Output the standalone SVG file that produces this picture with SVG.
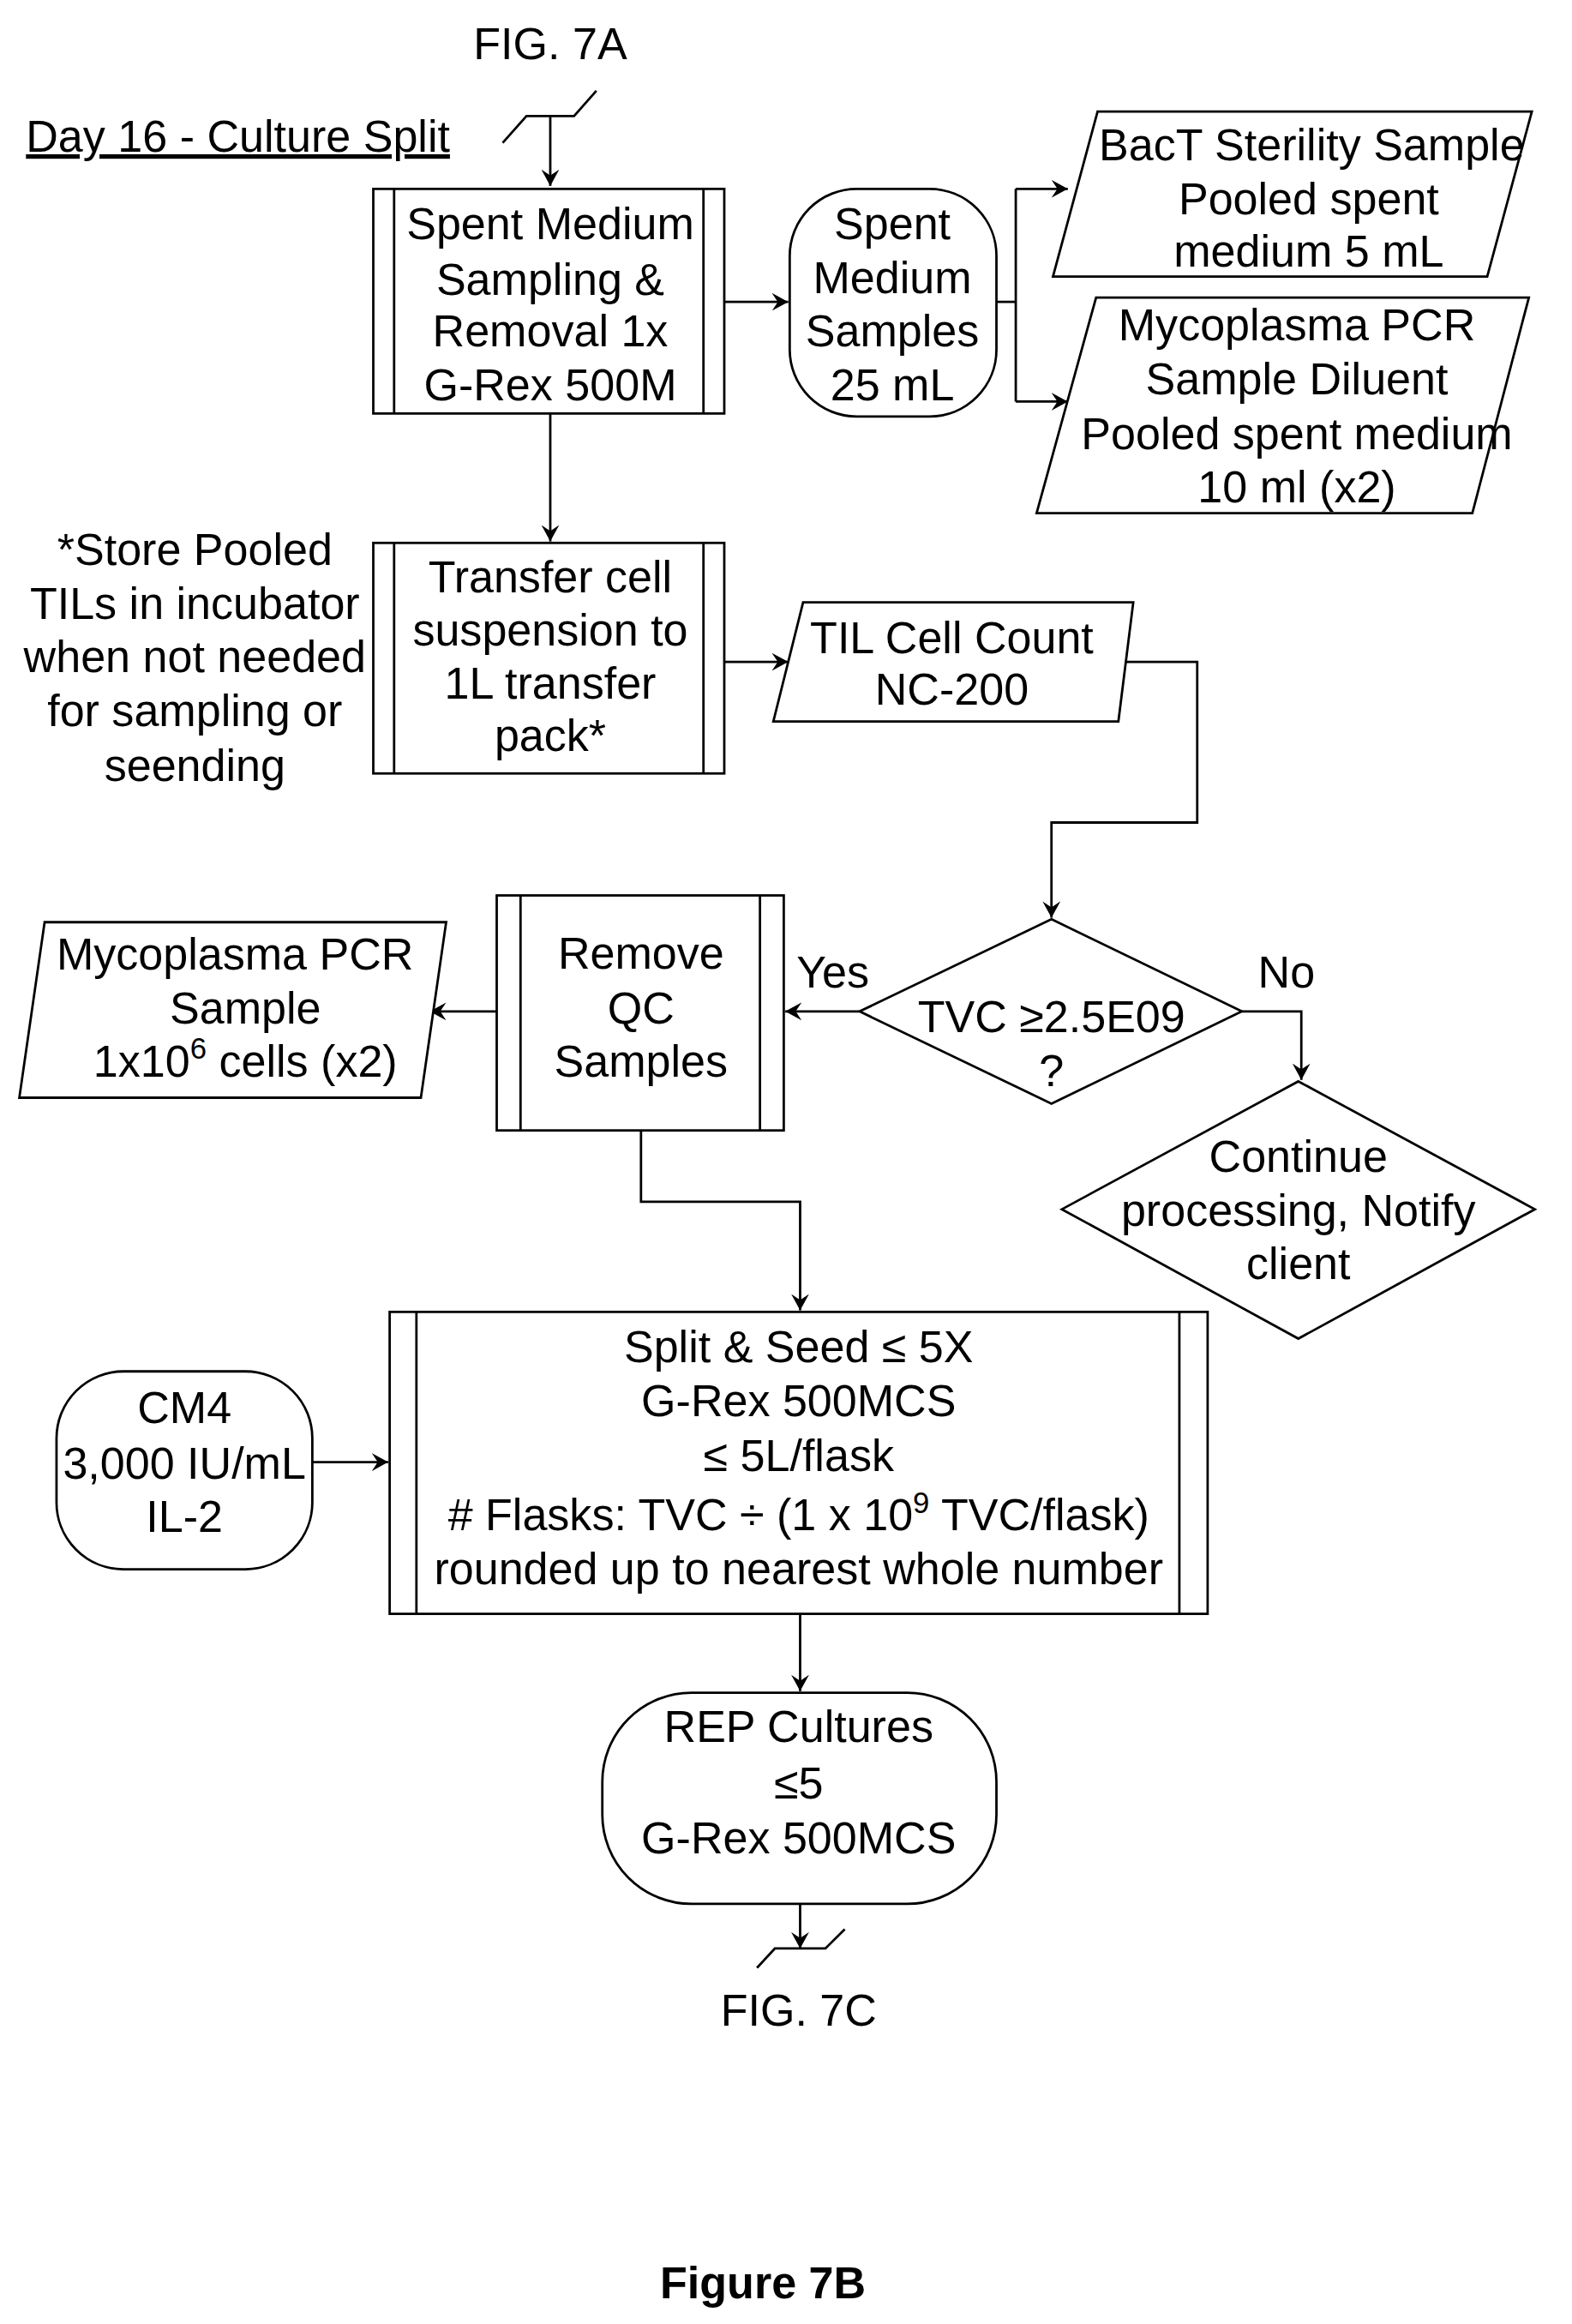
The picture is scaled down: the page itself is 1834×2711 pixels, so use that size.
<svg xmlns="http://www.w3.org/2000/svg" width="1834" height="2711" viewBox="0 0 1834 2711">
<defs>
<marker id="ah" markerWidth="12" markerHeight="12" refX="11" refY="6" orient="auto" markerUnits="userSpaceOnUse"><path d="M0,0 L11,6 L0,12 L4,6 Z" fill="#000"/></marker>
<style>
.s{fill:#fff;stroke:#000;stroke-width:1.6}
.l{fill:none;stroke:#000;stroke-width:1.6}
.t{font-family:"Liberation Sans",Arial,sans-serif;font-size:30px;text-anchor:middle;fill:#000}
</style>
</defs>
<rect width="1834" height="2711" fill="#fff"/>
<g transform="scale(1.7351)">
<text class="t" x="370" y="40" font-size="32">FIG. 7A</text>
<text class="t" x="160" y="102" style="text-anchor:middle" text-decoration="underline">Day 16 - Culture Split</text>
<g id="conn"><path class="l" d="M338,96 L354,78 L386,78 L401,61"/>
<path class="l" d="M370,78 L370,125" marker-end="url(#ah)"/>
<path class="l" d="M487,203 L530,203" marker-end="url(#ah)"/>
<path class="l" d="M670,203 L683,203 M683,127 L683,270"/>
<path class="l" d="M683,127 L718,127" marker-end="url(#ah)"/>
<path class="l" d="M683,270 L718,270" marker-end="url(#ah)"/>
<path class="l" d="M370,278 L370,364" marker-end="url(#ah)"/>
<path class="l" d="M487,445 L530,445" marker-end="url(#ah)"/>
<path class="l" d="M755,445 L805,445 L805,553 L707,553 L707,617" marker-end="url(#ah)"/>
<path class="l" d="M578,680 L528,680" marker-end="url(#ah)"/>
<path class="l" d="M835,680 L875,680 L875,726" marker-end="url(#ah)"/>
<path class="l" d="M334,680 L289,680" marker-end="url(#ah)"/>
<path class="l" d="M431,760 L431,808 L538,808 L538,881" marker-end="url(#ah)"/>
<path class="l" d="M210,983 L261,983" marker-end="url(#ah)"/>
<path class="l" d="M538,1085 L538,1137" marker-end="url(#ah)"/>
<path class="l" d="M538,1280 L538,1310" marker-end="url(#ah)"/>
<path class="l" d="M509,1323 L521,1310 L555,1310 L568,1297"/>
<text class="t" x="560" y="664">Yes</text>
<text class="t" x="865" y="664">No</text>
</g>
<g id="n1"><rect class="s" x="251" y="127" width="236" height="151"/><path class="l" d="M265,127V278M473,127V278"/>
<text class="t"><tspan x="370" y="161">Spent Medium</tspan><tspan x="370" y="198">Sampling &amp;</tspan><tspan x="370" y="233">Removal 1x</tspan><tspan x="370" y="269">G-Rex 500M</tspan></text></g>
<g id="n2"><rect class="s" x="531" y="127" width="139" height="153" rx="45"/>
<text class="t"><tspan x="600" y="161">Spent</tspan><tspan x="600" y="197">Medium</tspan><tspan x="600" y="233">Samples</tspan><tspan x="600" y="269">25 mL</tspan></text></g>
<g id="n3"><path class="s" d="M738,75 L1030,75 L1000,186 L708,186 Z"/>
<text class="t"><tspan x="882" y="108">BacT Sterility Sample</tspan><tspan x="880" y="144">Pooled spent</tspan><tspan x="880" y="179">medium 5 mL</tspan></text></g>
<g id="n4"><path class="s" d="M737,200 L1028,200 L990,345 L697,345 Z"/>
<text class="t"><tspan x="872" y="229">Mycoplasma PCR</tspan><tspan x="872" y="265">Sample Diluent</tspan><tspan x="872" y="302">Pooled spent medium</tspan><tspan x="872" y="338">10 ml (x2)</tspan></text></g>
<g id="note"><text class="t"><tspan x="131" y="380">*Store Pooled</tspan><tspan x="131" y="416">TILs in incubator</tspan><tspan x="131" y="452">when not needed</tspan><tspan x="131" y="488">for sampling or</tspan><tspan x="131" y="525">seending</tspan></text></g>
<g id="n5"><rect class="s" x="251" y="365" width="236" height="155"/><path class="l" d="M265,365V520M473,365V520"/>
<text class="t"><tspan x="370" y="398">Transfer cell</tspan><tspan x="370" y="434">suspension to</tspan><tspan x="370" y="470">1L transfer</tspan><tspan x="370" y="505">pack*</tspan></text></g>
<g id="n6"><path class="s" d="M540,405 L762,405 L752,485 L520,485 Z"/>
<text class="t"><tspan x="640" y="439">TIL Cell Count</tspan><tspan x="640" y="474">NC-200</tspan></text></g>
<g id="n7"><path class="s" d="M707,618 L835,680 L707,742 L578,680 Z"/>
<text class="t"><tspan x="707" y="694">TVC ≥2.5E09</tspan><tspan x="707" y="730">?</tspan></text></g>
<g id="n8"><path class="s" d="M873,727 L1032,813 L873,900 L714,813 Z"/>
<text class="t"><tspan x="873" y="788">Continue</tspan><tspan x="873" y="824">processing, Notify</tspan><tspan x="873" y="860">client</tspan></text></g>
<g id="n9"><rect class="s" x="334" y="602" width="193" height="158"/><path class="l" d="M350,602V760M511,602V760"/>
<text class="t"><tspan x="431" y="651">Remove</tspan><tspan x="431" y="688">QC</tspan><tspan x="431" y="724">Samples</tspan></text></g>
<g id="n10"><path class="s" d="M30,620 L300,620 L283,738 L13,738 Z"/>
<text class="t"><tspan x="158" y="652">Mycoplasma PCR</tspan><tspan x="165" y="688">Sample</tspan><tspan x="165" y="724">1x10<tspan dy="-12" font-size="20">6</tspan><tspan dy="12"> cells (x2)</tspan></tspan></text></g>
<g id="n11"><rect class="s" x="262" y="882" width="550" height="203"/><path class="l" d="M280,882V1085M793,882V1085"/>
<text class="t"><tspan x="537" y="916">Split &amp; Seed ≤ 5X</tspan><tspan x="537" y="952">G-Rex 500MCS</tspan><tspan x="537" y="989">≤ 5L/flask</tspan><tspan x="537" y="1029"># Flasks: TVC ÷ (1 x 10<tspan dy="-12" font-size="20">9</tspan><tspan dy="12"> TVC/flask)</tspan></tspan><tspan x="537" y="1065">rounded up to nearest whole number</tspan></text></g>
<g id="n12"><rect class="s" x="38" y="922" width="172" height="133" rx="45"/>
<text class="t"><tspan x="124" y="957">CM4</tspan><tspan x="124" y="994">3,000 IU/mL</tspan><tspan x="124" y="1030">IL-2</tspan></text></g>
<g id="n13"><rect class="s" x="405" y="1138" width="265" height="142" rx="60"/>
<text class="t"><tspan x="537" y="1171">REP Cultures</tspan><tspan x="537" y="1209">≤5</tspan><tspan x="537" y="1246">G-Rex 500MCS</tspan></text></g>
<text class="t" x="537" y="1362" font-size="32">FIG. 7C</text>
<text class="t" x="513" y="1545" font-size="34" font-weight="bold">Figure 7B</text>
</g>
</svg>
